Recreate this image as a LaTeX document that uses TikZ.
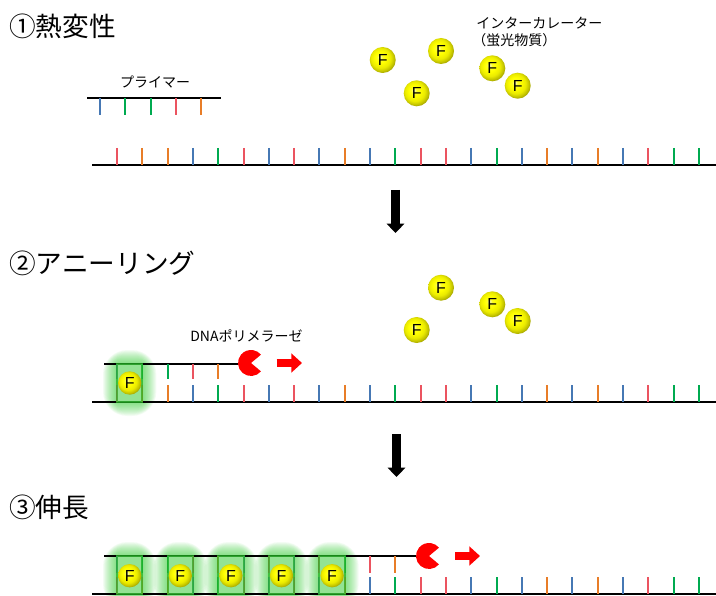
\documentclass[tikz,border=0pt]{standalone}
\usepackage{fontspec}
\setmainfont{Noto Sans CJK JP}
\setsansfont{Liberation Sans}
\usetikzlibrary{arrows.meta}

\definecolor{baseR}{RGB}{235,84,96}
\definecolor{baseB}{RGB}{70,120,180}
\definecolor{baseG}{RGB}{0,170,80}
\definecolor{baseO}{RGB}{232,125,40}
\definecolor{glowG}{RGB}{40,200,40}
\definecolor{polR}{RGB}{255,0,0}

% shading of the dye spheres
\pgfdeclareradialshading{fsphere}{\pgfpoint{-6bp}{6bp}}{%
  color(0bp)=(yellow!15!white); color(5bp)=(yellow!85!white); color(11bp)=(yellow);
  color(19bp)=(yellow!92!black); color(25bp)=(yellow!75!black); color(31bp)=(yellow!50!black);
  color(50bp)=(yellow!50!black)}

% bases of the template strand and of its complement
\def\tmpl{baseR,baseO,baseO,baseB,baseG,baseR,baseB,baseR,baseB,baseO,baseB,baseG,baseR,baseR,baseB,baseG,baseB,baseO,baseB,baseO,baseB,baseR,baseG,baseG}
\def\primer{baseB,baseG,baseG,baseR,baseO}
\def\cmpl{baseB,baseG,baseG,baseR,baseO,baseB,baseR,baseB,baseR,baseG,baseR,baseO}

\begin{document}
\begin{tikzpicture}[x=0.75pt,y=0.75pt,yscale=-1,
  title/.style={anchor=west,inner sep=0,font=\fontsize{20}{24}\selectfont},
  lbl/.style={inner sep=0,font=\fontsize{10.5}{12}\selectfont},
  strand/.style={line width=1.5pt,black},
  tick/.style={line width=1.5pt},
  fball/.style={circle,inner sep=0,minimum size=19.5pt,shading=fsphere,font=\sffamily\fontsize{12}{12}\selectfont},
  fbound/.style={fball,minimum size=17.5pt},
  bound/.style={fill=glowG!45,fill opacity=0.5,draw=glowG!90!black,draw opacity=0.75,line width=1.5pt},
  glow/.style={fill=glowG,opacity=0.055},
  stepdown/.style={line width=6.75pt,-{Triangle[length=7pt,width=13pt]}},
  push/.style={polR,line width=6pt,-{Triangle[length=8pt,width=14pt]}},
  pol/.style={fill=polR}]
\useasboundingbox (0,0) rectangle (716,595);

% Titles
\node[title] (t1) at (9,26) {①熱変性};
\node[title] (t2) at (9,263) {②アニーリング};
\node[title] (t3) at (9,507) {③伸長};

%%% 1: denaturation
% primer
\node[lbl] (primerlbl) at (155,82) {プライマー};
\coordinate (p1a) at (87,98);
\coordinate (p1b) at (221,98);
\draw[strand] (p1a) -- (p1b);
\foreach \c [count=\i from 0] in \primer
  \draw[tick,\c] ({100+\i*25.3},98) -- ++(0,17);
% template
\coordinate (s1a) at (92,165);
\coordinate (s1b) at (716,165);
\draw[strand] (s1a) -- (s1b);
\foreach \c [count=\i from 0] in \tmpl
  \draw[tick,\c] ({117+\i*25.3},148) -- ++(0,17);
% free dye
\node[lbl,anchor=west] (intc) at (476,23) {インターカレーター};
\node[lbl,anchor=west] (intcsub) at (472,40) {（蛍光物質）};
\node[fball] (f1) at (382.7,60) {F};
\node[fball] (f2) at (441,51) {F};
\node[fball] (f3) at (416.7,93.3) {F};
\node[fball] (f4) at (492.3,68.3) {F};
\node[fball] (f5) at (517.7,85.7) {F};

% step arrows
\coordinate (d1a) at (395.5,190);
\coordinate (d1b) at (395.5,233);
\draw[stepdown] (d1a) -- (d1b);
\coordinate (d2a) at (396.5,434);
\coordinate (d2b) at (396.5,477);
\draw[stepdown] (d2a) -- (d2b);

%%% 2: annealing
% glow
\foreach \k in {1,...,14}
  \fill[glow,rounded corners={1.3*\k pt}] ({117-\k},{364-\k}) rectangle ({142.3+\k},{402+\k});
\coordinate (u2a) at (104,364);
\coordinate (u2b) at (238,364);
\draw[strand] (u2a) -- (u2b);
\coordinate (s2a) at (92,402);
\coordinate (s2b) at (716,402);
\draw[strand] (s2a) -- (s2b);
\foreach \c [count=\i from 0] in \primer
  \draw[tick,\c] ({117+\i*25.3},364) -- ++(0,15);
\foreach \c [count=\i from 0] in \tmpl
  \draw[tick,\c] ({117+\i*25.3},385) -- ++(0,17);
\draw[bound] (117,364) rectangle (142.3,402);
\node[fbound] (fb0) at (129.7,383) {F};
% polymerase
\node[lbl,anchor=west] (dnap) at (190,336) {DNAポリメラーゼ};
\coordinate (pol2) at (251,363);
\fill[pol] (pol2) -- ++(40:13) arc[start angle=40,end angle=320,radius=13] -- cycle;
\coordinate (mv2a) at (276.7,363);
\coordinate (mv2b) at (302,363);
\draw[push] (mv2a) -- (mv2b);
% free dye
\node[fball] (g2) at (441,287.7) {F};
\node[fball] (g3) at (416.7,330) {F};
\node[fball] (g4) at (492.3,304.3) {F};
\node[fball] (g5) at (517.7,321) {F};

%%% 3: extension
\foreach \i in {0,2,4,6,8}
  \foreach \k in {1,...,14}
    \fill[glow,rounded corners={1.3*\k pt}] ({117+\i*25.3-\k},{556-\k}) rectangle ({142.3+\i*25.3+\k},{594+\k});
\coordinate (u3a) at (104,556);
\coordinate (u3b) at (416,556);
\draw[strand] (u3a) -- (u3b);
\coordinate (s3a) at (92,594);
\coordinate (s3b) at (716,594);
\draw[strand] (s3a) -- (s3b);
\foreach \c [count=\i from 0] in \cmpl
  \draw[tick,\c] ({117+\i*25.3},556) -- ++(0,17);
\foreach \c [count=\i from 0] in \tmpl
  \draw[tick,\c] ({117+\i*25.3},577) -- ++(0,17);
\foreach \i [count=\n] in {0,2,4,6,8} {
  \draw[bound] ({117+\i*25.3},556) rectangle ({142.3+\i*25.3},594);
  \node[fbound] (fb\n) at ({129.7+\i*25.3},575.7) {F};
}
% polymerase
\coordinate (pol3) at (429,556);
\fill[pol] (pol3) -- ++(40:13) arc[start angle=40,end angle=320,radius=13] -- cycle;
\coordinate (mv3a) at (455,556);
\coordinate (mv3b) at (480,556);
\draw[push] (mv3a) -- (mv3b);

\end{tikzpicture}
\end{document}
